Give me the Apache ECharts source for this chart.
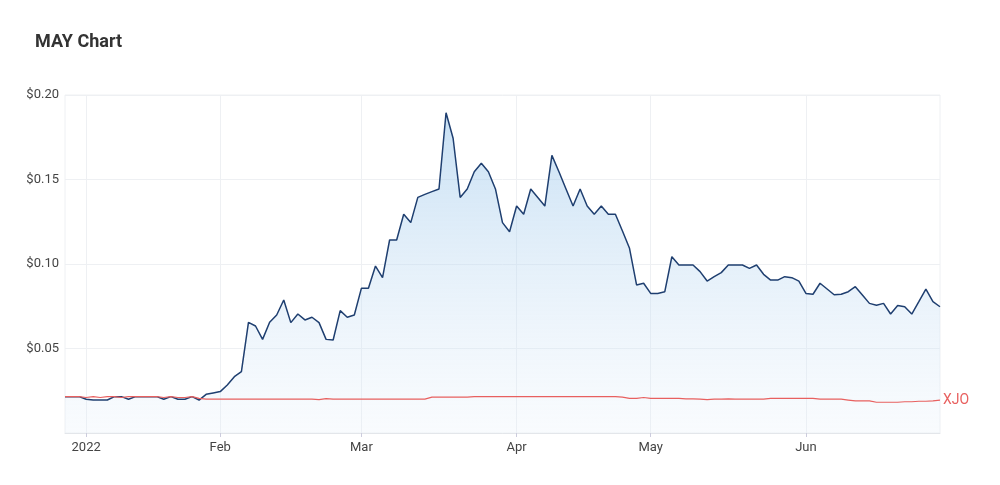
<!DOCTYPE html>
<html><head><meta charset="utf-8">
<script src="https://cdn.jsdelivr.net/npm/echarts@6/dist/echarts.min.js"></script>
<style>html,body{margin:0;background:#fff}#c{width:1000px;height:485px}</style>
</head><body><div id="c"></div>
<script>
// === Datos ===
const MAY = [
  0.0215,0.0215,0.0215,0.0200,0.0195,0.0195,0.0195,0.0215,0.0215,0.0200,
  0.0215,0.0215,0.0215,0.0215,0.0200,0.0215,0.0200,0.0200,0.0215,0.0195,
  0.0229,0.0237,0.0245,0.0284,0.0333,0.0363,0.0655,0.0633,0.0554,0.0655,
  0.0698,0.0787,0.0653,0.0704,0.0669,0.0685,0.0653,0.0554,0.0550,0.0724,
  0.0685,0.0698,0.0856,0.0856,0.0988,0.0919,0.1142,0.1142,0.1294,0.1245,
  0.1394,0.1412,0.1428,0.1444,0.1895,0.1744,0.1394,0.1444,0.1546,0.1596,
  0.1546,0.1444,0.1245,0.1191,0.1343,0.1294,0.1444,0.1394,0.1343,0.1643,
  0.1546,0.1444,0.1343,0.1444,0.1343,0.1294,0.1343,0.1294,0.1294,0.1195,
  0.1093,0.0876,0.0886,0.0826,0.0826,0.0836,0.1043,0.0994,0.0994,0.0994,
  0.0955,0.0899,0.0925,0.0949,0.0994,0.0994,0.0994,0.0974,0.0994,0.0939,
  0.0905,0.0905,0.0925,0.0919,0.0899,0.0826,0.0821,0.0886,0.0852,0.0818,
  0.0821,0.0836,0.0866,0.0817,0.0767,0.0756,0.0767,0.0704,0.0754,0.0747,
  0.0704,0.0777,0.0852,0.0777,0.0747
];
const XJO = [
  0.0215,0.0215,0.0215,0.0210,0.0215,0.0210,0.0215,0.0215,0.0210,0.0215,
  0.0215,0.0215,0.0215,0.0215,0.0210,0.0215,0.0210,0.0210,0.0215,0.0205,
  0.0200,0.0200,0.0200,0.0200,0.0200,0.0200,0.0200,0.0200,0.0200,0.0200,
  0.0200,0.0200,0.0200,0.0200,0.0200,0.0200,0.0197,0.0203,0.0200,0.0200,
  0.0200,0.0200,0.0200,0.0200,0.0200,0.0200,0.0200,0.0200,0.0200,0.0200,
  0.0200,0.0200,0.0212,0.0212,0.0212,0.0212,0.0212,0.0212,0.0215,0.0215,
  0.0215,0.0215,0.0215,0.0215,0.0215,0.0215,0.0215,0.0215,0.0215,0.0215,
  0.0215,0.0215,0.0215,0.0215,0.0215,0.0215,0.0215,0.0215,0.0215,0.0212,
  0.0205,0.0205,0.0210,0.0205,0.0205,0.0205,0.0205,0.0205,0.0202,0.0202,
  0.0200,0.0198,0.0200,0.0200,0.0202,0.0200,0.0200,0.0200,0.0200,0.0200,
  0.0205,0.0205,0.0205,0.0205,0.0205,0.0205,0.0205,0.0200,0.0200,0.0200,
  0.0200,0.0195,0.0190,0.0190,0.0190,0.0182,0.0182,0.0182,0.0182,0.0185,
  0.0185,0.0188,0.0188,0.0190,0.0195
];
const TICKS = {3:'2022',22:'Feb',42:'Mar',64:'Apr',83:'May',105:'Jun'};
const days = MAY.map((_,i)=>String(i));

const grid = '#eef0f3', txt = '#444';
const isTick = i => TICKS[i] !== undefined;

const chart = echarts.init(document.getElementById('c'));
chart.setOption({
  animation:false,
  title:{ text:'MAY Chart', left:30, top:28, textStyle:{ fontFamily:'Roboto', fontSize:18, fontWeight:'bold', color:'#333' } },
  grid:{ left:65, right:60, top:95, bottom:52, show:true, borderColor:'#eef0f3', borderWidth:1 },
  xAxis:{
    type:'category', data:days, boundaryGap:false,
    axisLine:{ lineStyle:{ color:'#e3e6ea' } },
    axisTick:{ interval:isTick, length:4, lineStyle:{ color:'#ccd' } },
    axisLabel:{ interval:isTick, formatter:(v,i)=>TICKS[i]||'', color:txt, fontFamily:'Roboto', fontSize:13, margin:8 },
    splitLine:{ show:true, interval:isTick, lineStyle:{ color:grid } }
  },
  yAxis:{
    type:'value', min:0, max:0.2, interval:0.05,
    axisLine:{ show:false }, axisTick:{ show:false },
    axisLabel:{ color:txt, fontFamily:'Roboto', fontSize:13, margin:6,
      formatter:v=> v===0 ? '' : '$'+v.toFixed(2) },
    splitLine:{ lineStyle:{ color:grid } }
  },
  series:[
    { name:'MAY', type:'line', data:MAY, symbol:'none',
      lineStyle:{ color:'#1f3f70', width:1.5 },
      areaStyle:{ color:new echarts.graphic.LinearGradient(0,0,0,1,[
        { offset:0, color:'rgba(150,196,234,0.75)' },
        { offset:1, color:'rgba(230,240,250,0.35)' } ]) }, z:2 },
    { name:'XJO', type:'line', data:XJO, symbol:'none',
      lineStyle:{ color:'#e8605f', width:1.2 }, z:3,
      endLabel:{ show:true, formatter:'XJO', color:'#e8605f', fontFamily:'Roboto', fontSize:14, distance:3 } }
  ]
});
</script></body></html>
